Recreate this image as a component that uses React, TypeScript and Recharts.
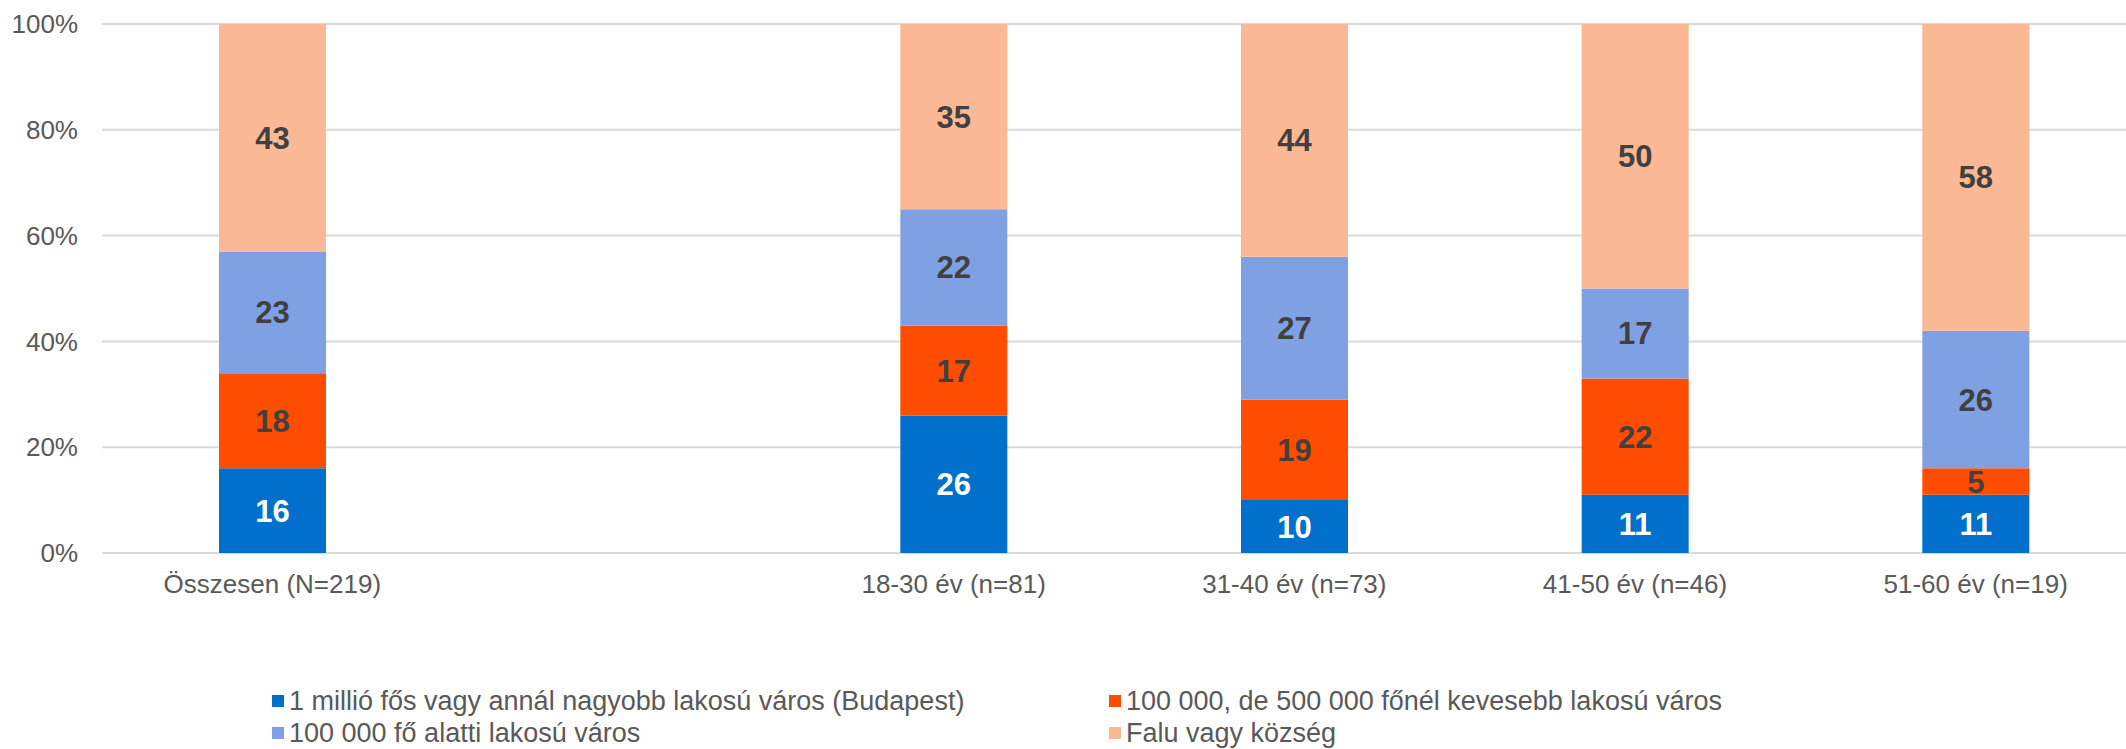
import React from "react";
import { BarChart, Bar, XAxis, YAxis, CartesianGrid, LabelList } from "recharts";

const categories = [
  "Összesen (N=219)",
  "",
  "18-30 év (n=81)",
  "31-40 év (n=73)",
  "41-50 év (n=46)",
  "51-60 év (n=19)",
];
const budapest = [16, null, 26, 10, 11, 11];
const nagyvaros = [18, null, 17, 19, 22, 5];
const kisvaros = [23, null, 22, 27, 17, 26];
const falu = [43, null, 35, 44, 50, 58];
const yTicks = [0, 20, 40, 60, 80, 100];

const seriesNames = [
  "1 millió fős vagy annál nagyobb lakosú város (Budapest)",
  "100 000, de 500 000 főnél kevesebb lakosú város",
  "100 000 fő alatti lakosú város",
  "Falu vagy község",
];

const series = [
  { key: "budapest", values: budapest, name: seriesNames[0], color: "#0070CC", labelColor: "#FFFFFF" },
  { key: "nagyvaros", values: nagyvaros, name: seriesNames[1], color: "#FF4D00", labelColor: "#404040" },
  { key: "kisvaros", values: kisvaros, name: seriesNames[2], color: "#7FA1E3", labelColor: "#404040" },
  { key: "falu", values: falu, name: seriesNames[3], color: "#FAB894", labelColor: "#404040" },
];

const data = categories.map((c, i) => {
  const row: Record<string, any> = { name: c };
  series.forEach((s) => {
    row[s.key] = s.values[i];
  });
  return row;
});

const FONT = '"Liberation Sans", Arial, sans-serif';

// legend layout: [series index, row, column]
const legendOrder = [
  [0, 0, 0],
  [1, 0, 1],
  [2, 1, 0],
  [3, 1, 1],
];
const colLeft = [272, 1109];
const rowTop = [685, 717];

export default function App() {
  return (
    <div
      style={{
        position: "absolute",
        left: 0,
        top: 0,
        width: 2126,
        height: 749,
        overflow: "hidden",
        background: "#FFFFFF",
        fontFamily: FONT,
      }}
    >
      <BarChart
        width={2146}
        height={620}
        data={data}
        margin={{ top: 24, right: 0, bottom: 0, left: 0 }}
        barSize={107}
      >
        <CartesianGrid vertical={false} stroke="#D9D9D9" strokeWidth={2} />
        <XAxis
          dataKey="name"
          axisLine={false}
          tickLine={false}
          tickSize={0}
          tickMargin={22}
          height={67}
          interval={0}
          tick={{ fill: "#595959", fontSize: 26, fontFamily: FONT }}
        />
        <YAxis
          width={102}
          domain={[0, 100]}
          ticks={yTicks}
          axisLine={false}
          tickLine={false}
          tickSize={0}
          tickMargin={24}
          tickFormatter={(v: number) => `${v}%`}
          tick={{ fill: "#595959", fontSize: 26, fontFamily: FONT }}
        />
        {series.map((s) => (
          <Bar
            key={s.key}
            dataKey={s.key}
            name={s.name}
            stackId="a"
            fill={s.color}
            isAnimationActive={false}
          >
            <LabelList
              dataKey={s.key}
              position="center"
              fill={s.labelColor}
              fontSize={31}
              fontWeight="bold"
              fontFamily={FONT}
              formatter={(v: any) => (v === null || v === undefined ? "" : v)}
            />
          </Bar>
        ))}
      </BarChart>
      {legendOrder.map(([si, r, c]) => {
        const s = series[si];
        return (
          <div
            key={s.key}
            style={{
              position: "absolute",
              left: colLeft[c],
              top: rowTop[r],
              height: 32,
              lineHeight: "32px",
              display: "flex",
              alignItems: "center",
              fontSize: 27,
              color: "#595959",
              whiteSpace: "nowrap",
            }}
          >
            <span
              style={{
                display: "inline-block",
                width: 12,
                height: 12,
                background: s.color,
                marginRight: 5,
              }}
            />
            <span>{s.name}</span>
          </div>
        );
      })}
    </div>
  );
}
